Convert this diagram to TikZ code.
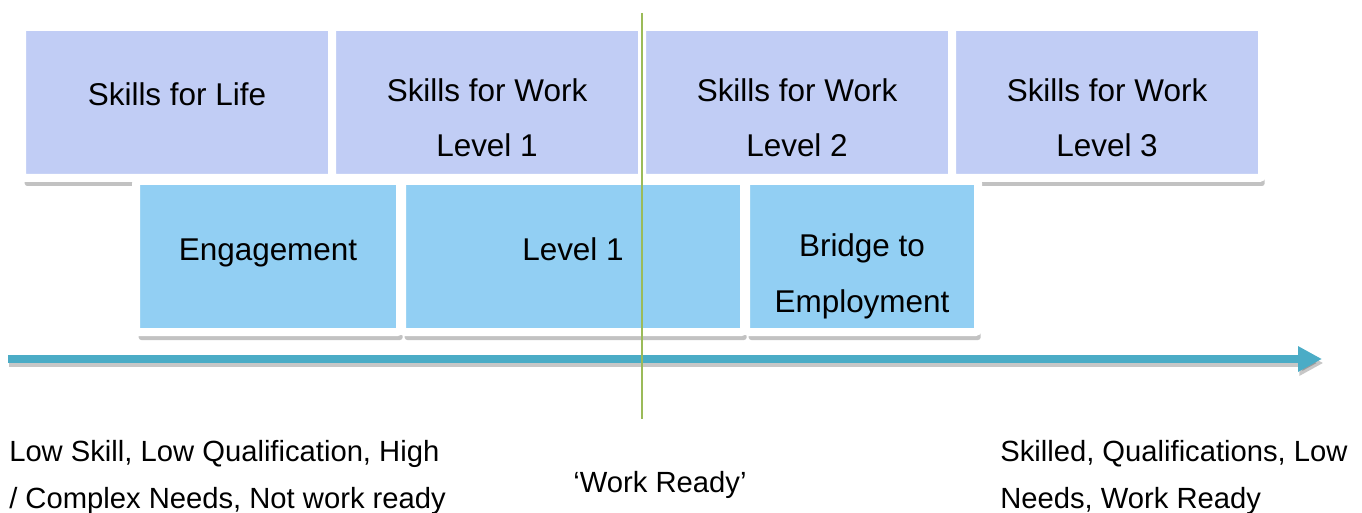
\documentclass[tikz,border=0pt]{standalone}
\usepackage{fontspec}
\setmainfont{Liberation Sans}
\usetikzlibrary{arrows.meta,shadows}

\definecolor{lifeblue}{HTML}{C1CDF5}
\definecolor{stageblue}{HTML}{92CFF3}
\definecolor{arrowteal}{HTML}{4BACC6}
\definecolor{readygreen}{HTML}{9BBB59}

\begin{document}
\begin{tikzpicture}[x=0.75pt,y=-0.75pt,
  every node/.style={font=\fontsize{23.6}{28}\selectfont},
  box/.style={draw=white,line width=6pt,rounded corners=2pt,inner sep=0pt,minimum height=113.25pt,
    drop shadow={shadow xshift=2pt,shadow yshift=-6pt,opacity=.4,fill=black!60}},
  toprow/.style={box,fill=lifeblue,minimum width=232.5pt},
  botrow/.style={box,fill=stageblue},
  txt/.style={anchor=base,inner sep=0pt},
  note/.style={anchor=base west,inner sep=0pt,font=\fontsize{21.9}{26}\selectfont}]
 \useasboundingbox (0,0) rectangle (1362,513);
 % top row: the skills strands
 \node[toprow] (life)  at (177,102.5) {};
 \node[toprow] (work1) at (487,102.5) {};
 \node[toprow] (work2) at (797,102.5) {};
 \node[toprow] (work3) at (1107,102.5) {};
 \node[txt] (lifeA) at (177,106) {Skills for Life};
 \foreach \x/\n in {487/1,797/2,1107/3}{
   \node[txt] (workA\n) at (\x,102) {Skills for Work};
   \node[txt] (workB\n) at (\x,157) {Level \n};
 }
 % bottom row: the stages
 \node[botrow,minimum width=198pt]   (engage) at (268,256.5) {};
 \node[botrow,minimum width=256.5pt] (lvl1)   at (573,256.5) {};
 \node[botrow,minimum width=174pt]   (bridge) at (862,256.5) {};
 \node[txt] (engageA) at (268,260) {Engagement};
 \node[txt] (lvl1A)   at (573,260) {Level 1};
 \node[txt] (bridgeA) at (862,256) {Bridge to};
 \node[txt] (bridgeB) at (862,312) {Employment};
 % progression arrow
 \coordinate (from) at (8,359);
 \coordinate (to)   at (1322,359);
 \draw[line width=6pt,black,opacity=.22,-{Triangle[length=18pt,width=18pt]}] ([xshift=1pt,yshift=-3pt]from) -- ([xshift=1pt,yshift=-3pt]to);
 \draw[line width=6pt,arrowteal,-{Triangle[length=18pt,width=18pt]}] (from) -- (to);
 % work ready line
 \coordinate (rtop) at (642,13);
 \coordinate (rbot) at (642,419);
 \draw[readygreen,line width=1.5pt] (rtop) -- (rbot);
 % end descriptions
 \node[note] (lowA)  at (9,461)    {Low Skill, Low Qualification, High};
 \node[note] (lowB)  at (9,508)    {/ Complex Needs, Not work ready};
 \node[txt,font=\fontsize{21.9}{26}\selectfont] (ready) at (660,492) {‘Work Ready’};
 \node[note] (highA) at (1000,461) {Skilled, Qualifications, Low};
 \node[note] (highB) at (1000,508) {Needs, Work Ready};
\end{tikzpicture}
\end{document}
